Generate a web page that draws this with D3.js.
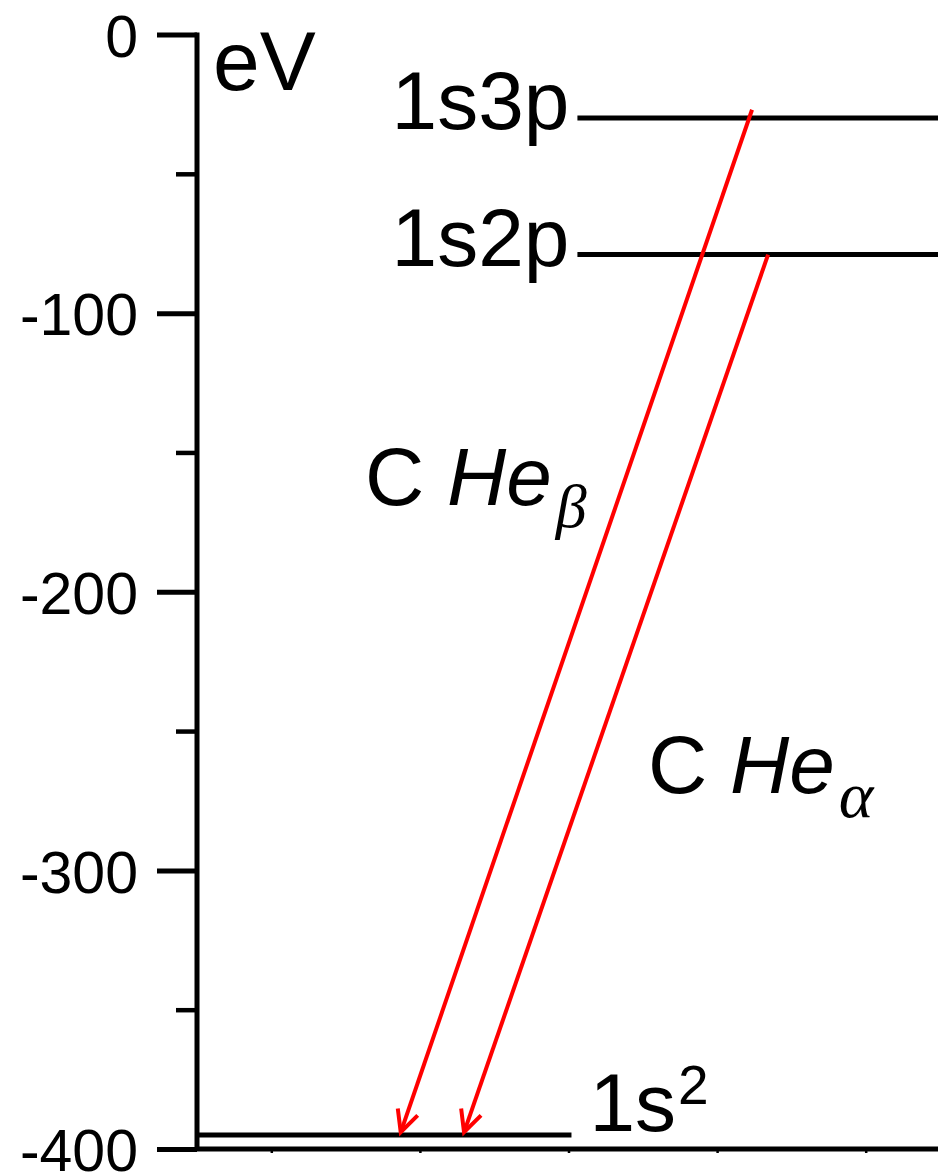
<!DOCTYPE html>
<html>
<head>
<meta charset="utf-8">
<script src="https://cdn.jsdelivr.net/npm/d3@7"></script>
<style>
  html, body { margin: 0; padding: 0; background: #fff; }
  svg { display: block; }
</style>
</head>
<body>
<svg id="chart" width="938" height="1174"></svg>
<script>
// ---- data ----
const majorTicks = [0, -100, -200, -300, -400];
const minorTicks = [-50, -150, -250, -350];
const bottomTicks = [0.5, 1.5, 2.5, 3.5, 4.5];

const levelNames  = ["1s3p", "1s2p", "1s2"];
const levelEnergy = [-30, -79, -395];
const levelXStart = [2.56, 2.56, 0];
const levelXEnd   = [5, 5, 2.52];

const lineNames    = ["He_beta", "He_alpha"];
const lineFromE    = [-27, -79];
const lineToE      = [-394, -394];
const lineFromX    = [3.735, 3.843];
const lineToX      = [1.371, 1.797];

// ---- drawing ----
const svg = d3.select("#chart");
const y = d3.scaleLinear().domain([0, -400]).range([34.5, 1149]);
const x = d3.scaleLinear().domain([0, 5]).range([197, 940]);

const font = "'Liberation Sans', Arial, sans-serif";
const serif = "'Liberation Serif', 'Times New Roman', serif";

// y axis major
const gY = svg.append("g").attr("transform", `translate(${x(0)},0)`)
  .call(d3.axisLeft(y).tickValues(majorTicks).tickSize(40).tickSizeOuter(0)
        .tickPadding(19).tickFormat(d3.format("d")));
gY.select(".domain").attr("stroke", "#000").attr("stroke-width", 5)
  .attr("d", `M0,${y(0) - 2}V${y(-400) + 2}`);
gY.selectAll(".tick line").attr("stroke", "#000").attr("stroke-width", 5);
gY.selectAll(".tick text").attr("font-family", font).attr("font-size", 59)
  .attr("fill", "#000").attr("dy", "0.37em")
  .text(d => d === 0 ? "0" : "-" + Math.abs(d));

// y axis minor
const gYm = svg.append("g").attr("transform", `translate(${x(0)},0)`)
  .call(d3.axisLeft(y).tickValues(minorTicks).tickSize(21).tickSizeOuter(0).tickFormat(""));
gYm.select(".domain").remove();
gYm.selectAll(".tick line").attr("stroke", "#000").attr("stroke-width", 4.5);

// bottom axis
const gX = svg.append("g").attr("transform", `translate(0,${y(-400)})`)
  .call(d3.axisBottom(x).tickValues(bottomTicks).tickSize(4).tickSizeOuter(0).tickFormat(""));
gX.select(".domain").attr("stroke", "#000").attr("stroke-width", 5)
  .attr("d", `M${x(0)},0H938`);
gX.selectAll(".tick line").attr("stroke", "#000").attr("stroke-width", 2.5);

// eV label
svg.append("text").attr("x", 213).attr("y", 90)
  .attr("font-family", font).attr("font-size", 84).attr("fill", "#000").text("eV");

// energy levels
const levels = levelNames.map((n, i) => ({ name: n, e: levelEnergy[i], x0: levelXStart[i], x1: levelXEnd[i] }));
svg.append("g").selectAll("line").data(levels).join("line")
  .attr("x1", d => x(d.x0)).attr("x2", d => x(d.x1))
  .attr("y1", d => y(d.e)).attr("y2", d => y(d.e))
  .attr("stroke", "#000").attr("stroke-width", 5);

// level labels
levels.forEach(d => {
  if (d.name === "1s2") {
    const t = svg.append("text").attr("x", x(d.x1) + 18).attr("y", y(d.e) - 4)
      .attr("font-family", font).attr("font-size", 82).attr("fill", "#000");
    t.append("tspan").text("1s");
    t.append("tspan").attr("font-size", 55).attr("dy", -27).attr("dx", 2).text("2");
  } else {
    svg.append("text").attr("x", x(d.x0) - 8).attr("y", y(d.e) + 11)
      .attr("text-anchor", "end").attr("font-family", font).attr("font-size", 82)
      .attr("fill", "#000").text(d.name);
  }
});

// transitions (red arrows)
const trans = lineNames.map((n, i) => ({ name: n, x0: lineFromX[i], e0: lineFromE[i], x1: lineToX[i], e1: lineToE[i] }));
const gA = svg.append("g").attr("stroke", "#ff0000").attr("stroke-width", 4).attr("fill", "none");
trans.forEach(d => {
  const X0 = x(d.x0), Y0 = y(d.e0), X1 = x(d.x1), Y1 = y(d.e1);
  gA.append("line").attr("x1", X0).attr("y1", Y0).attr("x2", X1).attr("y2", Y1);
  const ang = Math.atan2(Y0 - Y1, X0 - X1);
  const L = 24, a = 26 * Math.PI / 180;
  const p1 = [X1 + L * Math.cos(ang + a), Y1 + L * Math.sin(ang + a)];
  const p2 = [X1 + L * Math.cos(ang - a), Y1 + L * Math.sin(ang - a)];
  gA.append("path").attr("d", `M${p1[0]},${p1[1]}L${X1},${Y1}L${p2[0]},${p2[1]}`)
    .attr("stroke-linejoin", "miter");
});

// transition labels
function heLabel(xp, yp, sub, subSize, subDy) {
  const t = svg.append("text").attr("x", xp).attr("y", yp)
    .attr("font-family", font).attr("font-size", 82).attr("fill", "#000");
  t.append("tspan").text("C ");
  t.append("tspan").attr("font-style", "italic").text("He");
  t.append("tspan").attr("font-family", serif).attr("font-style", "italic")
    .attr("font-size", subSize).attr("dx", 4).attr("dy", subDy).text(sub);
}
heLabel(365, 505, "β", 62, 22);
heLabel(648, 793, "α", 66, 24);
</script>
</body>
</html>
